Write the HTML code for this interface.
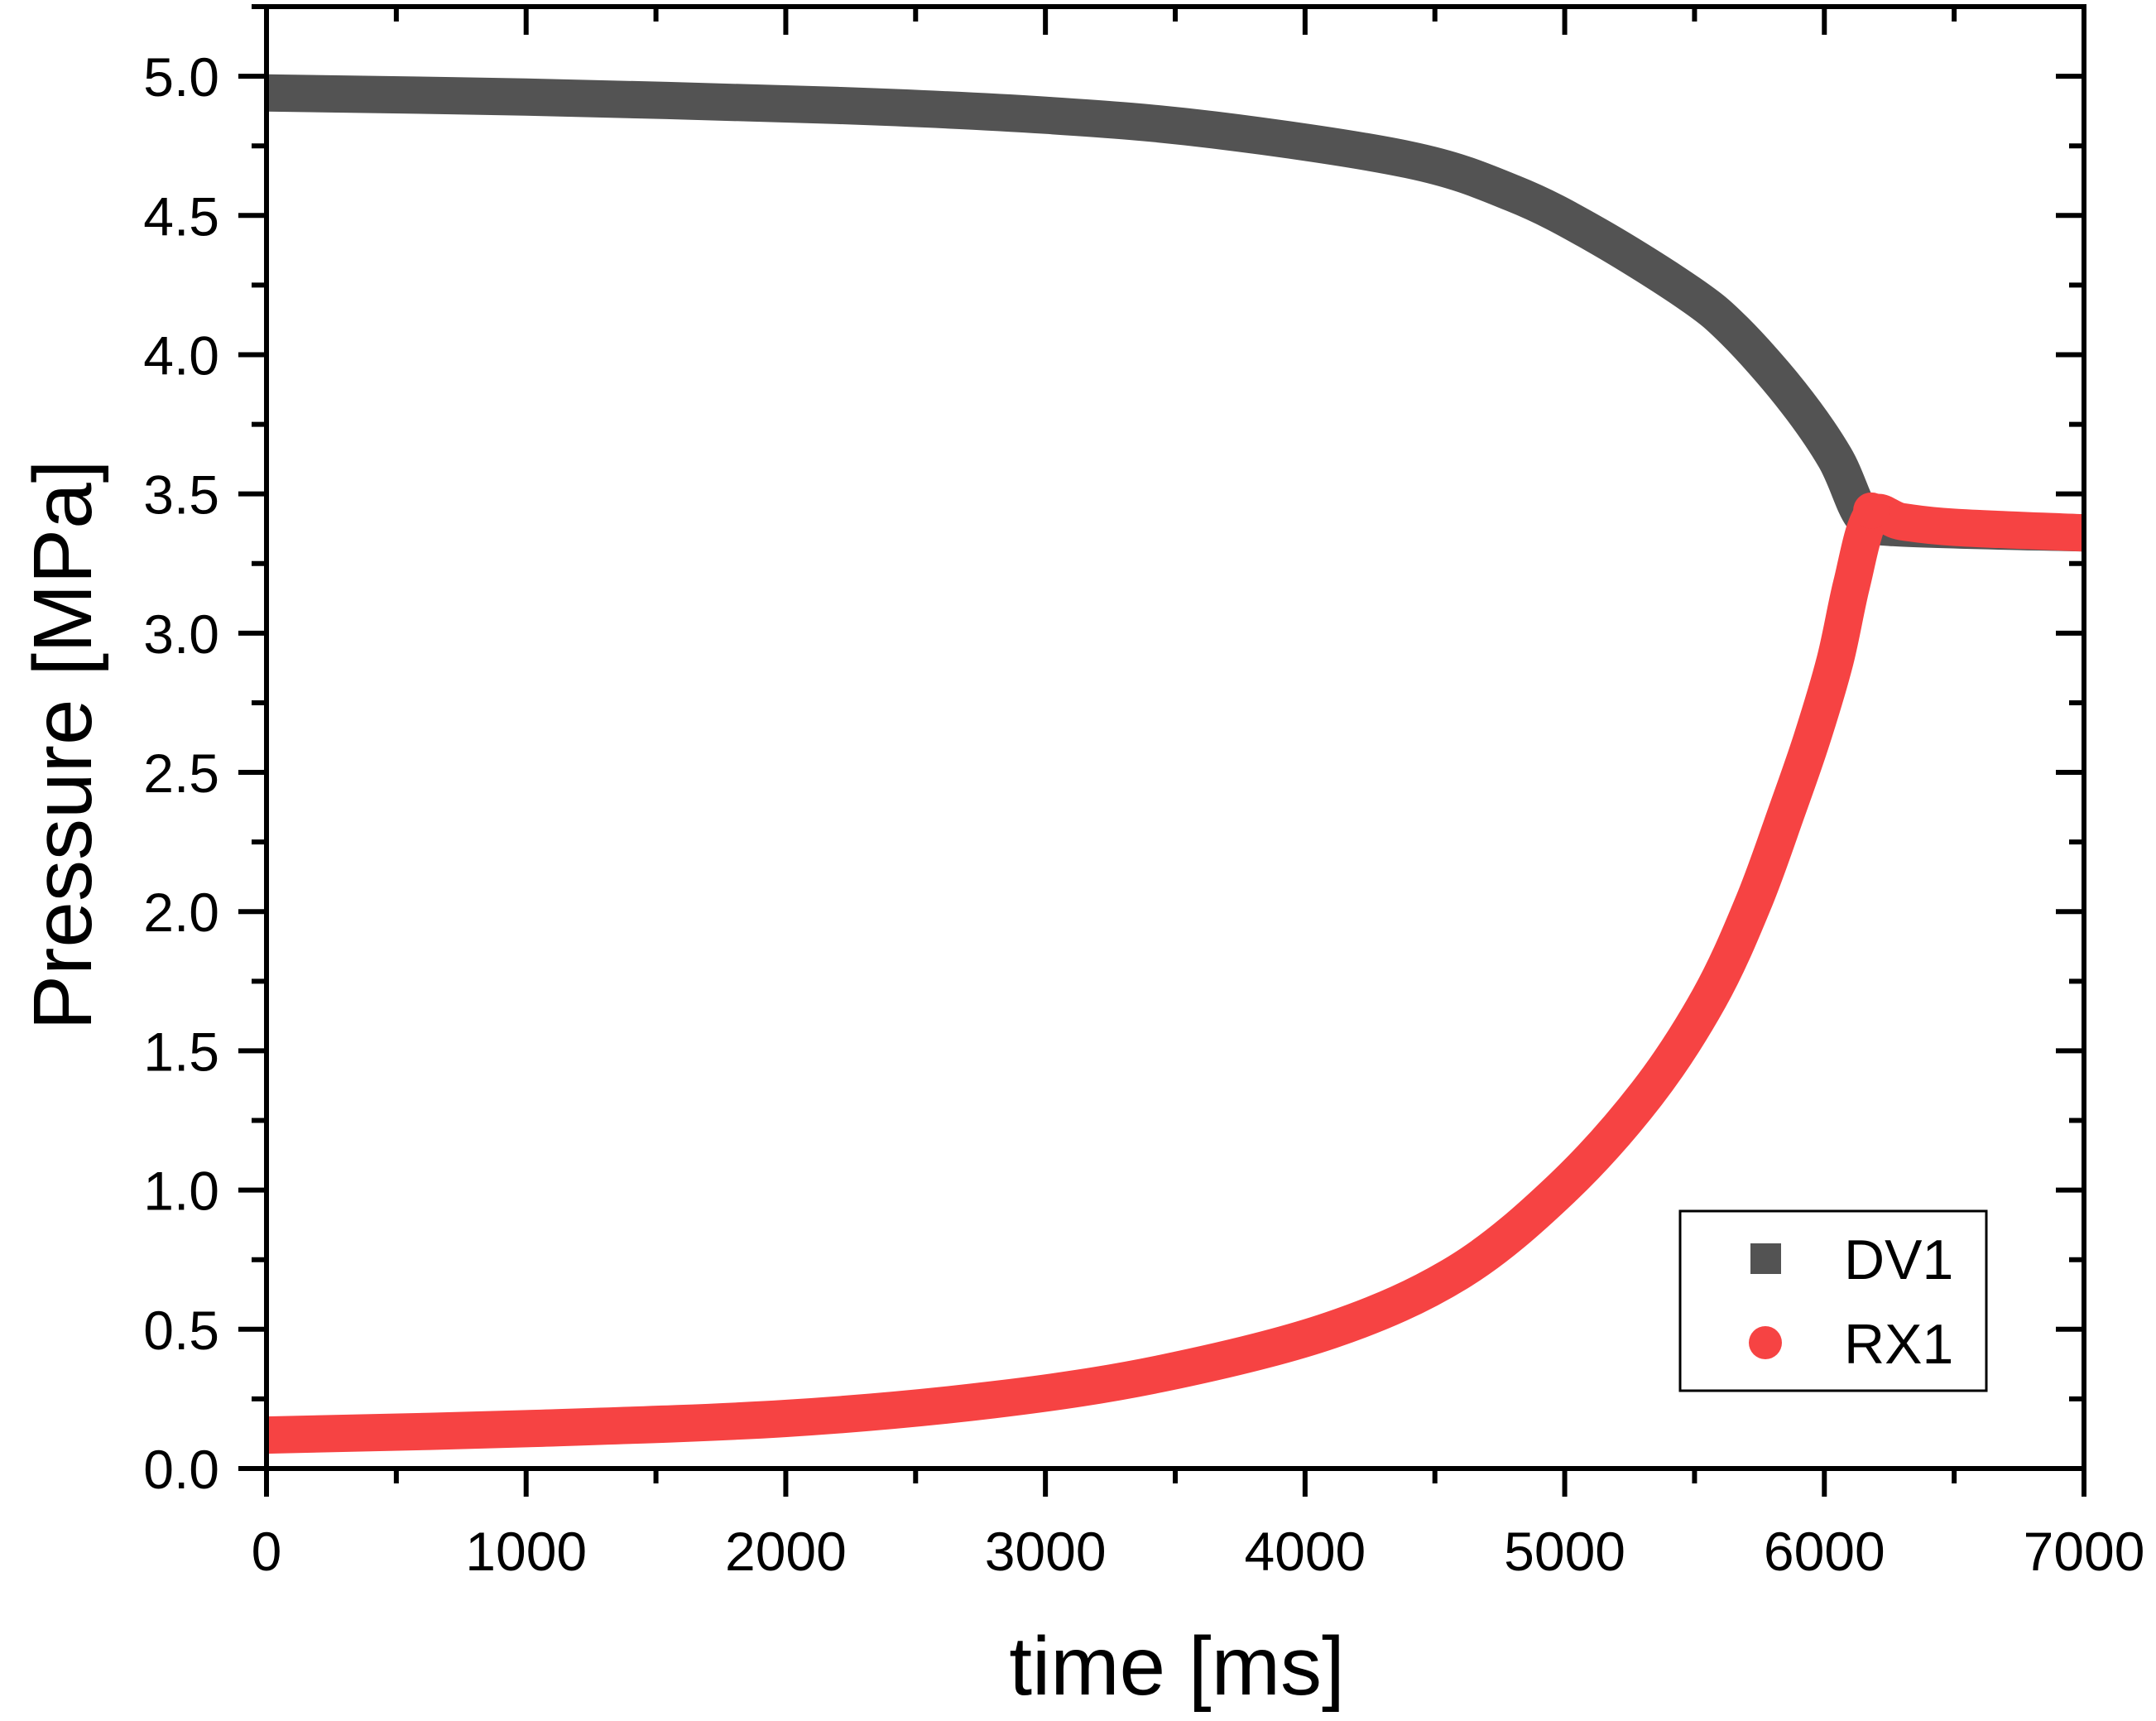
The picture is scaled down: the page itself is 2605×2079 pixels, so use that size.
<!DOCTYPE html>
<html><head><meta charset="utf-8"><style>
html,body{margin:0;padding:0;background:#fff}
svg{display:block}
text{font-family:"Liberation Sans",Arial,sans-serif;fill:#000}
</style></head><body>
<svg id="chart" width="2605" height="2079" viewBox="0 0 2605 2079" xmlns="http://www.w3.org/2000/svg">
<g id="plot"></g>
<g id="axes"></g>
<text x="1422" y="2047" font-size="100" text-anchor="middle">time [ms]</text>
<text transform="translate(110,900) rotate(-90)" font-size="100" text-anchor="middle">Pressure [MPa]</text>
<g>
<rect x="2030" y="1463" width="370" height="217" fill="#fff" stroke="#000" stroke-width="3"/>
<rect x="2115" y="1502" width="37" height="37" fill="#535353"/>
<text x="2228" y="1545" font-size="68">DV1</text>
<circle cx="2133" cy="1622" r="20" fill="#f64343"/>
<text x="2228" y="1647" font-size="68">RX1</text>
</g>
</svg>
<script>
const xTicks = [0,1000,2000,3000,4000,5000,6000,7000];
const yTicks = [0.0,0.5,1.0,1.5,2.0,2.5,3.0,3.5,4.0,4.5,5.0];
const dvTime = [0,1000,2200,3000,3650,4400,4800,5120,5480,5655,5869,6041,6146,6250,7000];
const dvVal  = [4.94,4.925,4.895,4.86,4.807,4.70,4.58,4.43,4.22,4.085,3.86,3.63,3.42,3.38,3.36];
const rxTime = [0,1000,2000,2800,3450,4100,4590,4988,5317,5556,5726,5859,5952,6041,6105,6181,6300,6500,7000];
const rxVal  = [0.12,0.143,0.18,0.247,0.342,0.497,0.705,1.005,1.347,1.688,2.03,2.37,2.62,2.90,3.175,3.42,3.40,3.38,3.36];

const L=322,R=2518,B=1774,T=8,XMAX=7000,YMAX=5.25;
const sx=v=>L+(R-L)*v/XMAX;
const sy=v=>B-(B-T)*v/YMAX;
const NS='http://www.w3.org/2000/svg';
const plot=document.getElementById('plot'), axes=document.getElementById('axes');
function mk(tag,attrs,parent){const e=document.createElementNS(NS,tag);for(const k in attrs)e.setAttribute(k,attrs[k]);parent.appendChild(e);return e;}
function smoothPath(ts,vs){
  const p=ts.map((t,i)=>[sx(t),sy(vs[i])]);
  let d='M'+p[0][0].toFixed(1)+','+p[0][1].toFixed(1);
  for(let i=0;i<p.length-1;i++){
    const p0=p[Math.max(0,i-1)],p1=p[i],p2=p[i+1],p3=p[Math.min(p.length-1,i+2)];
    const c1=[p1[0]+(p2[0]-p0[0])/6,p1[1]+(p2[1]-p0[1])/6];
    const c2=[p2[0]-(p3[0]-p1[0])/6,p2[1]-(p3[1]-p1[1])/6];
    d+=' C'+c1[0].toFixed(1)+','+c1[1].toFixed(1)+' '+c2[0].toFixed(1)+','+c2[1].toFixed(1)+' '+p2[0].toFixed(1)+','+p2[1].toFixed(1);
  }
  return d;
}
function line(ts,vs,color,name){
  const p=mk('path',{d:smoothPath(ts,vs),fill:'none',stroke:color,'stroke-width':45,'stroke-linejoin':'round','stroke-linecap':'butt'},plot);
  
  
}
line(dvTime,dvVal,'#535353','series-dv1');
line(rxTime,rxVal,'#f64343','series-rx1');
const dot=mk('circle',{cx:sx(6181),cy:sy(3.44),r:22,fill:'#f64343'},plot);



const frame=mk('rect',{x:L,y:T,width:R-L,height:B-T,fill:'none',stroke:'#000','stroke-width':6},axes);


function tk(x1,y1,x2,y2){const e=mk('line',{x1,y1,x2,y2,stroke:'#000','stroke-width':6},axes);
  
  }
for(let v=0;v<=XMAX;v+=500){const x=sx(v),maj=v%1000===0,len=maj?34:18;
  tk(x,B,x,B+len); tk(x,T,x,T+len);}
for(let k=0;k<=21;k++){const v=k*0.25,y=sy(v),maj=k%2===0,len=maj?34:18;
  tk(L,y,L-len,y); tk(R,y,R-len,y);}
xTicks.forEach(v=>{const t=mk('text',{x:sx(v),y:1897,'font-size':66,'text-anchor':'middle'},axes);t.textContent=String(v);
  
  });
yTicks.forEach(v=>{const t=mk('text',{x:265,y:sy(v)+24,'font-size':66,'text-anchor':'end'},axes);t.textContent=v.toFixed(1);
  
  });
</script>
</body></html>
